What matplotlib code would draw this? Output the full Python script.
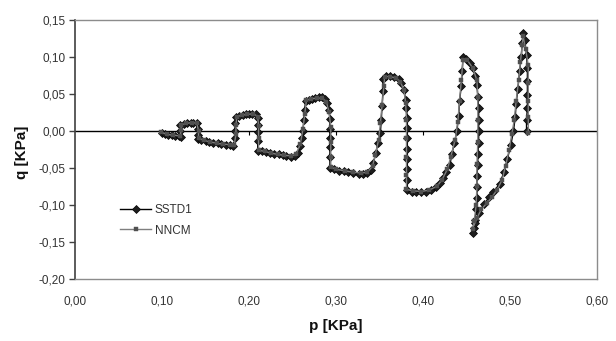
import matplotlib
matplotlib.use("Agg")
import matplotlib.pyplot as plt
from matplotlib.ticker import FuncFormatter

plt.rcParams['font.family'] = ['Liberation Sans', 'DejaVu Sans']

# ---- data ----
sstd1_p = [0.100, 0.104, 0.107, 0.111, 0.115, 0.119, 0.122,
           0.121, 0.121,
           0.125, 0.129, 0.133, 0.136, 0.140,
           0.141, 0.141, 0.141,
           0.145, 0.150, 0.154, 0.159, 0.164, 0.168, 0.173, 0.178, 0.182,
           0.184, 0.184, 0.184, 0.185,
           0.189, 0.193, 0.196, 0.200, 0.204, 0.208, 0.210,
           0.210, 0.210, 0.210, 0.210,
           0.215, 0.220, 0.224, 0.229, 0.234, 0.239, 0.243, 0.248, 0.253, 0.256,
           0.259, 0.261, 0.262, 0.263, 0.264, 0.265,
           0.269, 0.272, 0.276, 0.280, 0.284, 0.287, 0.290,
           0.292, 0.293, 0.293, 0.293, 0.293, 0.293, 0.293,
           0.298, 0.303, 0.309, 0.314, 0.320, 0.326, 0.331, 0.336, 0.340,
           0.343, 0.346, 0.348, 0.351, 0.352, 0.353, 0.354, 0.354,
           0.358, 0.362, 0.367, 0.372, 0.375, 0.378,
           0.380, 0.381, 0.382, 0.382, 0.382, 0.382, 0.382, 0.382, 0.382, 0.382,
           0.387, 0.392, 0.398, 0.403, 0.409, 0.415, 0.419, 0.423,
           0.427, 0.431, 0.433, 0.436, 0.439, 0.441, 0.442, 0.444, 0.445, 0.446,
           0.449, 0.454, 0.457, 0.460, 0.462,
           0.463, 0.464, 0.464, 0.464, 0.464, 0.463, 0.463, 0.462, 0.462, 0.462,
           0.461, 0.460, 0.459, 0.458,
           0.460, 0.464, 0.470, 0.476, 0.481, 0.488, 0.493, 0.497, 0.501, 0.504,
           0.506, 0.507, 0.509, 0.511, 0.513, 0.514, 0.515,
           0.517, 0.519, 0.520, 0.520, 0.520, 0.520, 0.519, 0.519]
sstd1_q = [-0.003, -0.005, -0.006, -0.006, -0.007, -0.007, -0.008,
           0.000, 0.008,
           0.009, 0.010, 0.010, 0.011, 0.011,
           0.002, -0.006, -0.011,
           -0.012, -0.014, -0.015, -0.016, -0.017, -0.018, -0.019, -0.019, -0.020,
           -0.010, 0.000, 0.010, 0.018,
           0.020, 0.021, 0.022, 0.023, 0.023, 0.022, 0.017,
           0.008, -0.002, -0.014, -0.027,
           -0.028, -0.029, -0.030, -0.031, -0.032, -0.033, -0.034, -0.035, -0.034, -0.030,
           -0.020, -0.010, 0.000, 0.014, 0.028, 0.040,
           0.042, 0.043, 0.044, 0.045, 0.045, 0.043, 0.038,
           0.028, 0.016, 0.002, -0.010, -0.022, -0.035, -0.050,
           -0.052, -0.054, -0.055, -0.056, -0.057, -0.058, -0.058, -0.057, -0.053,
           -0.043, -0.030, -0.016, -0.003, 0.014, 0.034, 0.054, 0.070,
           0.074, 0.074, 0.073, 0.070, 0.064, 0.055,
           0.042, 0.030, 0.017, 0.004, -0.010, -0.024, -0.038, -0.052, -0.066, -0.080,
           -0.082, -0.083, -0.083, -0.082, -0.080, -0.076, -0.071, -0.064,
           -0.056, -0.046, -0.032, -0.017, 0.000, 0.020, 0.040, 0.060, 0.080, 0.099,
           0.097, 0.092, 0.084, 0.074, 0.062,
           0.046, 0.030, 0.014, -0.001, -0.016, -0.031, -0.046, -0.061, -0.076, -0.091,
           -0.106, -0.120, -0.131, -0.138,
           -0.124, -0.111, -0.099, -0.090, -0.082, -0.072, -0.056, -0.038, -0.019, 0.000,
           0.018, 0.036, 0.056, 0.080, 0.100, 0.118, 0.132,
           0.122, 0.102, 0.085, 0.067, 0.048, 0.031, 0.014, 0.000]

nncm_p = [0.099, 0.106, 0.113, 0.121, 0.122, 0.122, 0.128, 0.135, 0.140, 0.142, 0.142,
          0.148, 0.155, 0.163, 0.170, 0.178, 0.183, 0.185, 0.185, 0.186, 0.192, 0.198,
          0.205, 0.210, 0.211, 0.211, 0.211,
          0.218, 0.225, 0.233, 0.240, 0.248, 0.254, 0.259, 0.262, 0.264, 0.266, 0.271,
          0.278, 0.284, 0.289, 0.292, 0.294, 0.294, 0.294, 0.294,
          0.300, 0.310, 0.319, 0.329, 0.336, 0.342, 0.345, 0.349, 0.351, 0.353, 0.355,
          0.356, 0.362, 0.369, 0.374, 0.378, 0.380, 0.381, 0.381, 0.381, 0.381, 0.381,
          0.388, 0.398, 0.407, 0.416, 0.422, 0.428, 0.432, 0.437, 0.440, 0.442, 0.444,
          0.446, 0.451, 0.457, 0.462, 0.463, 0.463, 0.463, 0.462, 0.462, 0.461, 0.459, 0.457,
          0.462, 0.467, 0.474, 0.479, 0.485, 0.491, 0.495, 0.499, 0.502, 0.505, 0.507,
          0.510, 0.512, 0.514, 0.515, 0.518, 0.521, 0.521, 0.521, 0.521, 0.521]
nncm_q = [-0.002, -0.005, -0.006, -0.007, 0.001, 0.008, 0.010, 0.011, 0.010, 0.000, -0.010,
          -0.013, -0.015, -0.017, -0.018, -0.019, -0.019, -0.005, 0.008, 0.019, 0.021, 0.022,
          0.023, 0.019, 0.006, -0.010, -0.026,
          -0.028, -0.030, -0.032, -0.033, -0.034, -0.032, -0.018, 0.002, 0.022, 0.041, 0.043,
          0.044, 0.044, 0.039, 0.025, 0.005, -0.015, -0.035, -0.049,
          -0.052, -0.054, -0.056, -0.057, -0.056, -0.048, -0.033, -0.012, 0.010, 0.035, 0.060,
          0.073, 0.073, 0.071, 0.066, 0.055, 0.038, 0.015, -0.010, -0.035, -0.060, -0.079,
          -0.081, -0.082, -0.080, -0.075, -0.066, -0.052, -0.035, -0.012, 0.012, 0.040, 0.068,
          0.096, 0.095, 0.085, 0.068, 0.045, 0.015, -0.015, -0.045, -0.075, -0.100, -0.122, -0.132,
          -0.118, -0.106, -0.097, -0.090, -0.080, -0.066, -0.047, -0.026, -0.005, 0.015, 0.040,
          0.068, 0.093, 0.115, 0.128, 0.110, 0.088, 0.065, 0.040, 0.018, -0.003]

x_ticks = [0.00, 0.10, 0.20, 0.30, 0.40, 0.50, 0.60]
y_ticks = [-0.20, -0.15, -0.10, -0.05, 0.00, 0.05, 0.10, 0.15]

# ---- figure ----
W, H = 616, 341
fig = plt.figure(figsize=(W / 100, H / 100), dpi=100)
L, R, T, B = 75, 597, 19.5, 279
ax = fig.add_axes([L / W, 1 - B / H, (R - L) / W, (B - T) / H])

# horizontal axis crossing at q = 0, with small downward tick marks
ax.axhline(0, color='black', lw=1.0, zorder=1)
ax.plot(x_ticks[1:], [0.0] * (len(x_ticks) - 1), linestyle='none', marker=3,
        ms=3, mew=0.8, color='black', zorder=1)

ax.plot(sstd1_p, sstd1_q, color='black', lw=1.0, marker='D', ms=4.3,
        mfc='#1e1e1e', mec='black', mew=0.5, zorder=3, label='SSTD1')
ax.plot(nncm_p, nncm_q, color='#7f7f7f', lw=1.0, marker='s', ms=3.2,
        mfc='#505050', mec='#505050', mew=0.3, zorder=4, label='NNCM')

ax.set_xlim(0, 0.6)
ax.set_ylim(-0.2, 0.15)
ax.set_xticks(x_ticks)
ax.set_yticks(y_ticks)
fmt = FuncFormatter(lambda v, pos: f"{v:.2f}".replace('.', ',').replace('-0,00', '0,00'))
ax.xaxis.set_major_formatter(fmt)
ax.yaxis.set_major_formatter(fmt)

for s in ['top', 'right', 'bottom']:
    ax.spines[s].set_color('#8c8c8c')
    ax.spines[s].set_linewidth(1.0)
ax.spines['left'].set_color('#404040')
ax.spines['left'].set_linewidth(1.2)

ax.tick_params(axis='y', direction='out', length=4, width=1, color='#404040',
               labelsize=8.5, labelcolor='#333333', pad=3)
ax.tick_params(axis='x', direction='out', length=0, labelsize=8.5,
               labelcolor='#333333', pad=12)

fig.text((L + R) / 2 / W, 1 - 326 / H, 'p [KPa]', ha='center', va='center',
         fontsize=11, fontweight='bold', color='#111111')
fig.text(22 / W, 1 - 152 / H, 'q [KPa]', ha='center', va='center', rotation=90,
         fontsize=11, fontweight='bold', color='#111111')

leg = ax.legend(loc='upper left', bbox_to_anchor=(112 / W, 1 - 196 / H),
                bbox_transform=fig.transFigure, frameon=False, fontsize=8.5,
                handlelength=2.6, handletextpad=0.3, labelspacing=0.7,
                borderpad=0.2, labelcolor='#333333')

fig.savefig('out.png', dpi=100)
